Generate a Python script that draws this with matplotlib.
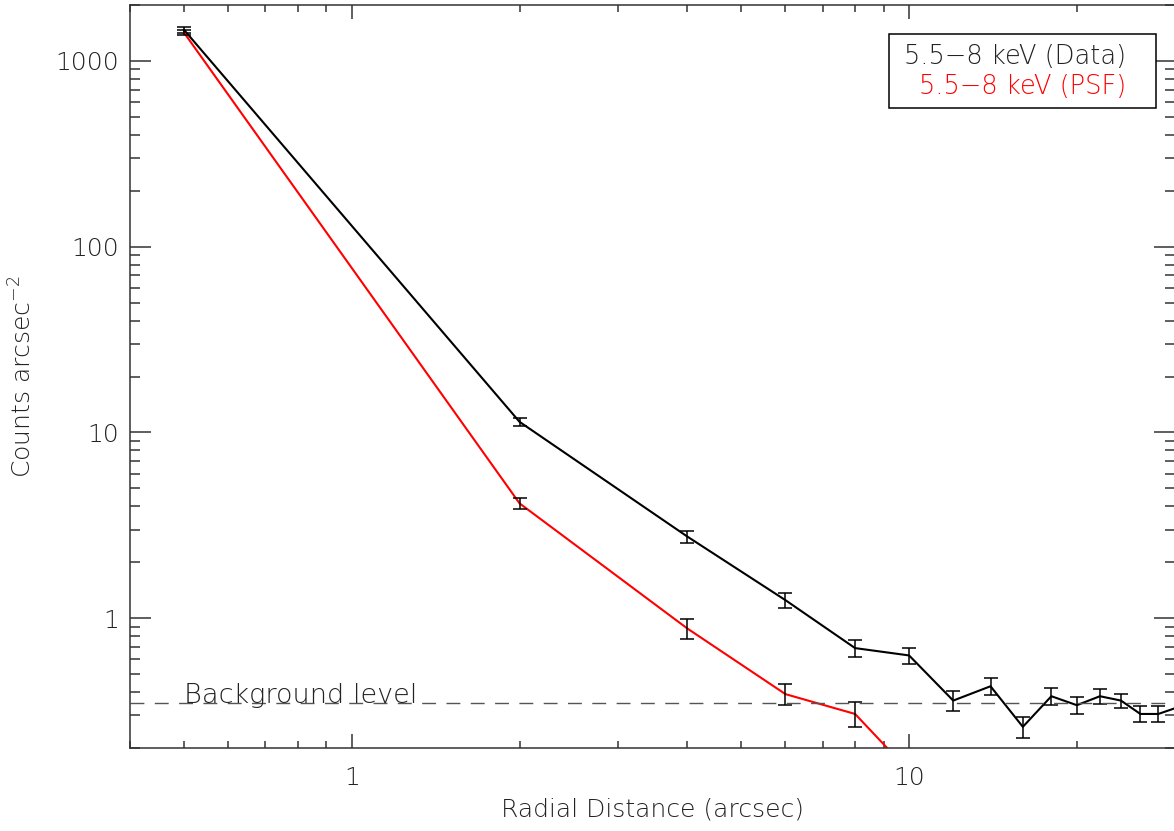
import numpy as np
import matplotlib
matplotlib.use('Agg')
import matplotlib.pyplot as plt
from matplotlib.patches import Rectangle
from matplotlib.ticker import LogLocator, FixedLocator, NullFormatter, FixedFormatter

plt.rcParams['font.family'] = ['DejaVu Sans']
plt.rcParams['font.weight'] = 'light'
plt.rcParams['axes.labelweight'] = 'light'
plt.rcParams['mathtext.default'] = 'regular'

# radial profile, 5.5-8 keV
r_data = [0.5, 2, 4, 6, 8, 10, 12, 14, 16, 18, 20, 22, 24, 26, 28, 32]
counts_data = [1470, 11.4, 2.75, 1.25, 0.69, 0.63, 0.36, 0.43, 0.26, 0.38,
               0.34, 0.38, 0.36, 0.305, 0.305, 0.35]
err_data = [60, 0.6, 0.2, 0.11, 0.075, 0.065, 0.045, 0.045, 0.035, 0.04,
            0.035, 0.035, 0.032, 0.03, 0.03, 0.03]

r_psf = [0.5, 2, 4, 6, 8, 10]
counts_psf = [1420, 4.15, 0.88, 0.39, 0.305, 0.15]
err_psf = [40, 0.3, 0.11, 0.05, 0.047, 0.02]

background = 0.35
labels = ['5.5\u22128 keV (Data)', '5.5\u22128 keV (PSF)']

W, H = 1174, 831
fig = plt.figure(figsize=(W / 100, H / 100), dpi=100)
ax = fig.add_axes([130 / W, (H - 748) / H, 1045 / W, 743 / H])
ax.set_xscale('log')
ax.set_yscale('log')
ax.set_xlim(0.4, 30)
ax.set_ylim(0.2, 2000)

# data and psf curves
ax.plot(r_data, counts_data, color='black', lw=1.5)
ax.errorbar(r_data, counts_data, yerr=err_data, fmt='none', ecolor='black',
            elinewidth=1.1, capsize=4.7, capthick=1.1)
ax.plot(r_psf, counts_psf, color='red', lw=1.5)
ax.errorbar(r_psf, counts_psf, yerr=err_psf, fmt='none', ecolor='black',
            elinewidth=1.1, capsize=4.7, capthick=1.1)

# background level
ax.axhline(background, color='#555555', lw=1.0, dashes=(10, 7.5))
ax.text(0.5, background, 'Background level', fontsize=19.5, color='#222222',
        va='baseline', ha='left')

# ticks IDL style
for s in ax.spines.values():
    s.set_color('#333333')
    s.set_linewidth(1.1)
ax.xaxis.set_major_locator(FixedLocator([1, 10]))
ax.xaxis.set_major_formatter(FixedFormatter(['1', '10']))
ax.xaxis.set_minor_locator(LogLocator(base=10, subs=np.arange(2, 10), numticks=20))
ax.xaxis.set_minor_formatter(NullFormatter())
ax.yaxis.set_major_locator(FixedLocator([1, 10, 100, 1000]))
ax.yaxis.set_major_formatter(FixedFormatter(['1', '10', '100', '1000']))
ax.yaxis.set_minor_locator(LogLocator(base=10, subs=np.arange(2, 10), numticks=20))
ax.yaxis.set_minor_formatter(NullFormatter())

ax.tick_params(axis='both', which='both', direction='in', top=True, right=True,
               color='#333333', width=1.1, labelsize=18, labelcolor='#222222')
ax.tick_params(axis='x', which='major', length=10, pad=13)
ax.tick_params(axis='x', which='minor', length=5)
ax.tick_params(axis='y', which='major', length=15, pad=8)
ax.tick_params(axis='y', which='minor', length=7.2)

ax.set_xlabel('Radial Distance (arcsec)', fontsize=18, color='#222222', labelpad=5)
ax.set_ylabel('Counts arcsec$^{-2}$', fontsize=18, color='#222222', labelpad=13)

# legend box drawn by hand (IDL style, right aligned text)
fig.add_artist(Rectangle((889 / W, 1 - 108 / H), 267 / W, 74 / H,
                         transform=fig.transFigure, facecolor='white',
                         edgecolor='black', lw=1.1, zorder=5))
fig.text(1126 / W, 1 - 56.7 / H, labels[0], ha='right', va='center',
         fontsize=18.5, color='#222222', zorder=6)
fig.text(1126 / W, 1 - 86.7 / H, labels[1], ha='right', va='center',
         fontsize=18.5, color='red', zorder=6)

fig.savefig('out.png', dpi=100)
